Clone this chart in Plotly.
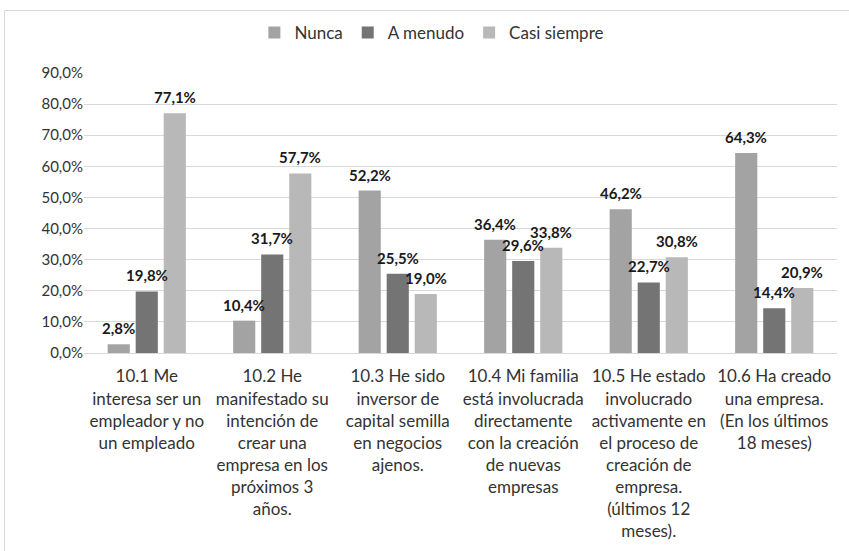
import plotly.graph_objects as go

categories = [
    "10.1 Me<br>interesa ser un<br>empleador y no<br>un empleado",
    "10.2 He<br>manifestado su<br>intención de<br>crear una<br>empresa en los<br>próximos 3<br>años.",
    "10.3 He sido<br>inversor de<br>capital semilla<br>en negocios<br>ajenos.",
    "10.4 Mi familia<br>está involucrada<br>directamente<br>con la creación<br>de nuevas<br>empresas",
    "10.5 He estado<br>involucrado<br>activamente en<br>el proceso de<br>creación de<br>empresa.<br>(últimos 12<br>meses).",
    "10.6 Ha creado<br>una empresa.<br>(En los últimos<br>18 meses)",
]
series_names = ["Nunca", "A menudo", "Casi siempre"]
nunca = [2.8, 10.4, 52.2, 36.4, 46.2, 64.3]
a_menudo = [19.8, 31.7, 25.5, 29.6, 22.7, 14.4]
casi_siempre = [77.1, 57.7, 19.0, 33.8, 30.8, 20.9]
y_ticks = [0, 10, 20, 30, 40, 50, 60, 70, 80, 90]

series_values = [nunca, a_menudo, casi_siempre]
colors = ["#a3a3a3", "#747474", "#b8b8b8"]
shifts = [-28, 0, 28]

FONT = "Lato"
TXT = "#333333"

L, R, T, B = 84, 12, 73, 198
PW = 849 - L - R
PH = 551 - T - B
BOTTOM = 551 - B

fig = go.Figure()
for name, vals, col in zip(series_names, series_values, colors):
    fig.add_trace(go.Bar(x=categories, y=vals, name=name, marker_color=col,
                         marker_line_width=0))

annotations = []
for vals, sh in zip(series_values, shifts):
    for c, v in zip(categories, vals):
        annotations.append(dict(
            x=c, y=v, xref="x", yref="y", xshift=sh, yshift=5,
            yanchor="bottom", xanchor="center", showarrow=False,
            text=f"{v:.1f}%".replace(".", ","),
            font=dict(family=FONT, size=15, color="#1a1a1a", weight="bold"),
        ))

fig.update_layout(
    width=849, height=551,
    margin=dict(l=L, r=R, t=T, b=B, autoexpand=False),
    paper_bgcolor="white", plot_bgcolor="white",
    font=dict(family=FONT, size=15, color=TXT),
    barmode="group", bargap=0.33, bargroupgap=0.21,
    showlegend=True,
    legend=dict(orientation="h", x=0.462, xanchor="center",
                yref="container", y=1 - 33 / 551, yanchor="middle",
                font=dict(family=FONT, size=17, color=TXT),
                itemwidth=30, tracegroupgap=0),
    annotations=annotations,
    shapes=[dict(type="rect", xref="paper", yref="paper",
                 x0=(4.5 - L) / PW, x1=(870 - L) / PW,
                 y0=(BOTTOM - 580) / PH, y1=(BOTTOM - 10.5) / PH,
                 line=dict(color="#d9d9d9", width=1), fillcolor="rgba(0,0,0,0)",
                 layer="below")],
)
fig.update_yaxes(range=[0, 90], tickvals=y_ticks, automargin=False,
                 ticktext=[f"{t:.1f}%".replace(".", ",") for t in y_ticks],
                 showgrid=True, gridcolor="#d9d9d9", gridwidth=1,
                 zeroline=False, showline=False, ticks="",
                 tickfont=dict(family=FONT, size=15, color=TXT))
fig.update_xaxes(showline=True, linecolor="#d9d9d9", linewidth=1, ticks="",
                 tickangle=0, ticklabelstandoff=8, automargin=False,
                 tickfont=dict(family=FONT, size=17, color=TXT))

fig.write_html("out.html", config={"displayModeBar": False},
               post_script="document.body.style.margin='0';document.body.style.padding='0';")
